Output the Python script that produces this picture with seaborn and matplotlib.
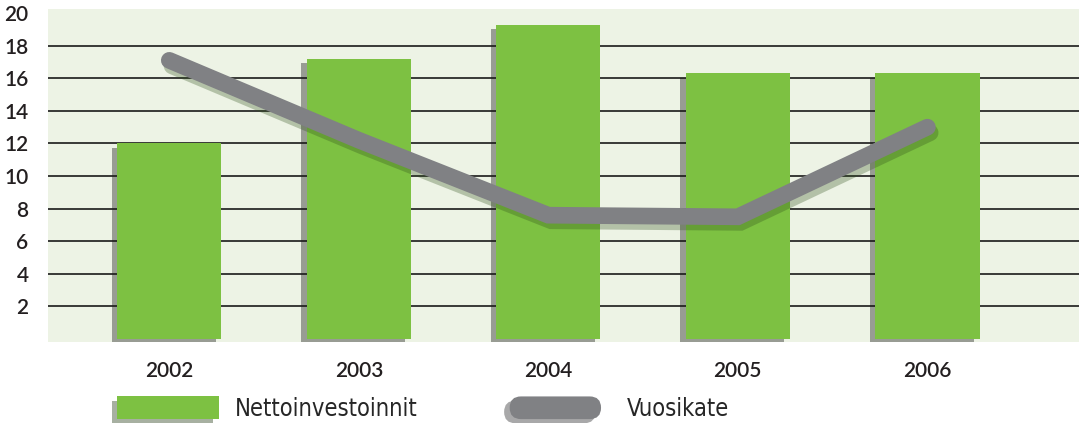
import matplotlib
matplotlib.use("Agg")
import matplotlib.pyplot as plt
import matplotlib.patheffects as pe
from matplotlib.patches import Patch, FancyBboxPatch
from matplotlib.legend_handler import HandlerPatch
import seaborn as sns
import pandas as pd

years = ["2002", "2003", "2004", "2005", "2006"]
nettoinvestoinnit = [12.0, 17.2, 19.25, 16.3, 16.3]
vuosikate = [17.1, 12.2, 7.6, 7.5, 13.0]
yticks = [2, 4, 6, 8, 10, 12, 14, 16, 18, 20]

green = "#7DC142"
grey = "#808184"
bg = "#EDF3E5"

sns.set_theme(style="white")
plt.rcParams['font.family'] = ['Lato', 'DejaVu Sans']

df = pd.DataFrame({"vuosi": years, "netto": nettoinvestoinnit, "kate": vuosikate})

fig = plt.figure(figsize=(10.79, 4.23), dpi=100)
ax = fig.add_axes([48 / 1079, 1 - 342 / 423, 1 - 48 / 1079, 333 / 423])
ax.set_facecolor(bg)

# pylväät
sns.barplot(data=df, x="vuosi", y="netto", color=green, saturation=1,
            width=0.55, ax=ax, zorder=3, edgecolor="none", linewidth=0)
for bar in ax.patches:
    bar.set_path_effects([pe.SimplePatchShadow(offset=(-4, -3), shadow_rgbFace="k", alpha=0.4),
                          pe.Normal()])

# viiva
sns.lineplot(data=df, x="vuosi", y="kate", color=grey, lw=12, ax=ax, zorder=4,
             solid_capstyle="round", solid_joinstyle="miter", sort=False)
for ln in ax.lines:
    ln.set_path_effects([pe.SimpleLineShadow(offset=(2, -4), shadow_color="#2f4f1a", alpha=0.3),
                         pe.Normal()])

for v in yticks[:-1]:
    ax.axhline(v, color="#1a1a1a", lw=1.2, zorder=1)

ax.set_xlim(-0.64, 4.8)
ax.set_ylim(-0.18, 20.25)
ax.set_yticks(yticks)
ax.set_yticklabels([str(v) for v in yticks])
ax.tick_params(axis="y", length=0, pad=14, labelsize=15, labelcolor="#231F20")
ax.tick_params(axis="x", length=0, pad=14, labelsize=15, labelcolor="#231F20")
for lbl in ax.get_yticklabels() + ax.get_xticklabels():
    lbl.set_fontweight("semibold")
ax.set_xlabel("")
ax.set_ylabel("")
for s in ax.spines.values():
    s.set_visible(False)


def pill(legend, orig_handle, xdescent, ydescent, width, height, fontsize):
    w = width * 0.9
    return FancyBboxPatch((-xdescent, -ydescent), w, height,
                          boxstyle=f"round,pad=0,rounding_size={height / 2}")


shadow = [pe.SimplePatchShadow(offset=(-4, -3), alpha=0.4), pe.Normal()]
handles = [Patch(facecolor=green, edgecolor="none", path_effects=shadow),
           Patch(facecolor=grey, edgecolor="none", path_effects=shadow)]
fig.legend(handles, ["Nettoinvestoinnit", "Vuosikate"], loc="lower left",
           bbox_to_anchor=(96 / 1079, -0.045), ncol=2, frameon=False,
           handlelength=4.3, handleheight=1.1, handletextpad=0.68, columnspacing=3.9,
           handler_map={handles[1]: HandlerPatch(patch_func=pill)},
           prop={"family": "DejaVu Sans", "stretch": "condensed", "size": 17})

fig.savefig("out.png", dpi=100)
